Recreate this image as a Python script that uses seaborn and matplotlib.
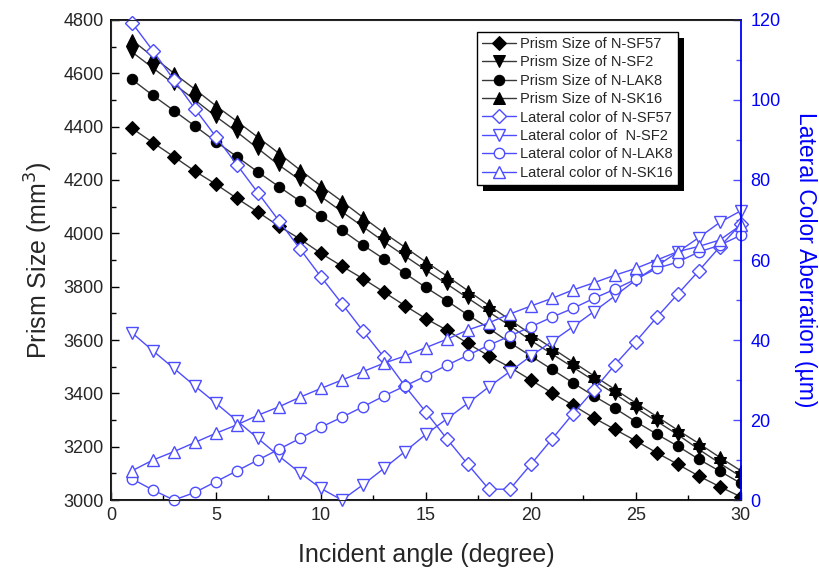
import numpy as np
import pandas as pd
import matplotlib
matplotlib.use("Agg")
import matplotlib.pyplot as plt
import seaborn as sns
from matplotlib.ticker import MultipleLocator
from matplotlib.patches import Rectangle

sns.set_style("ticks")
plt.rcParams['font.family'] = ['Liberation Sans', 'DejaVu Sans']

# incident angle (degree)
angle = list(range(1, 31))

# prism size (mm^3), left axis
size_sf57 = [4394, 4340, 4287, 4233, 4184, 4131, 4080, 4027, 3979, 3925,
             3877, 3830, 3780, 3729, 3680, 3637, 3587, 3540, 3498, 3450,
             3402, 3356, 3308, 3265, 3222, 3177, 3134, 3090, 3050, 3012]
size_sf2 = [4680, 4620, 4560, 4500, 4438, 4380, 4318, 4256, 4200, 4138,
            4081, 4025, 3969, 3915, 3862, 3810, 3757, 3705, 3654, 3598,
            3548, 3498, 3448, 3398, 3345, 3295, 3245, 3190, 3138, 3088]
size_lak8 = [4577, 4517, 4460, 4402, 4344, 4287, 4230, 4175, 4121, 4065,
             4012, 3956, 3904, 3850, 3797, 3747, 3694, 3644, 3590, 3540,
             3490, 3440, 3390, 3344, 3294, 3247, 3202, 3153, 3108, 3063]
size_sk16 = [4725, 4662, 4600, 4540, 4478, 4420, 4360, 4300, 4238, 4178,
             4120, 4060, 4002, 3948, 3893, 3840, 3785, 3730, 3676, 3622,
             3570, 3518, 3466, 3415, 3364, 3313, 3262, 3212, 3160, 3110]

# lateral color aberration (um), right axis
lat_sf57 = [119.3, 112.3, 105.0, 97.8, 90.8, 83.8, 76.8, 69.8, 62.8, 55.8,
            49.1, 42.3, 35.7, 28.5, 22.0, 15.3, 8.9, 2.7, 2.7, 8.9,
            15.2, 21.5, 27.5, 33.8, 39.6, 45.7, 51.5, 57.3, 63.3, 69.0]
lat_sf2 = [41.8, 37.3, 32.9, 28.5, 24.2, 19.8, 15.4, 11.0, 6.8, 2.9,
           0.0, 3.8, 7.9, 12.1, 16.4, 20.3, 24.2, 28.3, 32.1, 36.0,
           39.6, 43.3, 47.1, 51.0, 55.0, 58.5, 62.0, 65.6, 69.4, 72.3]
lat_lak8 = [5.3, 2.5, 0.0, 1.9, 4.6, 7.3, 10.0, 12.7, 15.4, 18.2,
            20.7, 23.3, 26.0, 28.5, 31.0, 33.7, 36.2, 38.7, 41.0, 43.3,
            45.7, 47.9, 50.4, 52.7, 55.2, 57.9, 59.5, 62.0, 63.7, 66.2]
lat_sk16 = [7.3, 10.0, 12.1, 14.4, 16.7, 18.8, 21.2, 23.3, 25.7, 27.9,
            30.0, 32.1, 34.2, 36.0, 38.1, 40.2, 42.5, 44.3, 46.5, 48.5,
            50.4, 52.5, 54.3, 56.2, 57.9, 60.0, 62.1, 63.4, 65.0, 68.7]

size_series = [("Prism Size of N-SF57", size_sf57, "D", 7),
               ("Prism Size of N-SF2", size_sf2, "v", 8.5),
               ("Prism Size of N-LAK8", size_lak8, "o", 7.5),
               ("Prism Size of N-SK16", size_sk16, "^", 8.5)]
lat_series = [("Lateral color of N-SF57", lat_sf57, "D", 7),
              ("Lateral color of  N-SF2", lat_sf2, "v", 8.5),
              ("Lateral color of N-LAK8", lat_lak8, "o", 7.5),
              ("Lateral color of N-SK16", lat_sk16, "^", 8.5)]

blue = "#4d4dff"

fig = plt.figure(figsize=(8.19, 5.71), dpi=100)
ax = fig.add_axes([0.1355, 0.1243, 0.769, 0.8407])
ax2 = ax.twinx()

for name, vals, mk, ms in size_series:
    df = pd.DataFrame({"angle": angle, "val": vals})
    sns.lineplot(data=df, x="angle", y="val", ax=ax, color="#383838", lw=1,
                 marker=mk, markersize=ms, markerfacecolor="black",
                 markeredgecolor="black", label=name, legend=False)

for name, vals, mk, ms in lat_series:
    df = pd.DataFrame({"angle": angle, "val": vals})
    sns.lineplot(data=df, x="angle", y="val", ax=ax2, color=blue, lw=1,
                 marker=mk, markersize=ms, markerfacecolor="white",
                 markeredgecolor=blue, markeredgewidth=1, label=name,
                 legend=False, clip_on=False)

ax.set_xlim(0, 30)
ax.set_ylim(3000, 4800)
ax2.set_ylim(0, 120)

ax.xaxis.set_major_locator(MultipleLocator(5))
ax.xaxis.set_minor_locator(MultipleLocator(2.5))
ax.yaxis.set_major_locator(MultipleLocator(200))
ax.yaxis.set_minor_locator(MultipleLocator(100))
ax2.yaxis.set_major_locator(MultipleLocator(20))
ax2.yaxis.set_minor_locator(MultipleLocator(10))

ax.tick_params(axis="both", which="major", direction="in", length=6,
               width=1, labelsize=13, color="black", pad=5)
ax.tick_params(axis="both", which="minor", direction="in", length=3.5,
               width=1, color="black")
ax2.tick_params(axis="y", which="major", direction="in", length=6, width=1,
                labelsize=13, colors=blue, pad=7)
ax2.tick_params(axis="y", which="minor", direction="in", length=3.5,
                width=1, colors=blue)
ax2.tick_params(axis="y", labelcolor="#0000ff")

for sp in ["left", "bottom", "top"]:
    ax.spines[sp].set_color("black")
    ax.spines[sp].set_linewidth(1.3)
ax2.spines["right"].set_color("#0000ff")
ax2.spines["right"].set_linewidth(1.3)
ax.spines["right"].set_visible(False)

ax.set_xlabel("Incident angle (degree)", fontsize=18, labelpad=14)
ax.set_ylabel("Prism Size (mm$^3$)", fontsize=18, labelpad=6)
ax2.set_ylabel("Lateral Color Aberration (\u00b5m)", fontsize=16.5,
               color="#0000ff", rotation=270, labelpad=26)

h1, l1 = ax.get_legend_handles_labels()
h2, l2 = ax2.get_legend_handles_labels()
leg = ax2.legend(h1 + h2, l1 + l2, loc="upper right",
                 bbox_to_anchor=(0.90, 0.975), borderaxespad=0, fontsize=10.5,
                 frameon=True, fancybox=False, edgecolor="black",
                 handlelength=2.3, labelspacing=0.3, borderpad=0.35,
                 handletextpad=0.3)
leg.get_frame().set_linewidth(1)
leg.get_frame().set_alpha(1)
leg.set_zorder(10)

# solid black drop shadow behind the legend box
fig.canvas.draw()
bb = leg.get_window_extent()
shadow = Rectangle((bb.x0 + 6, bb.y0 - 6), bb.width, bb.height,
                   transform=None, facecolor="black", edgecolor="none",
                   zorder=9)
ax2.add_patch(shadow)

fig.savefig("out.png", dpi=100)
